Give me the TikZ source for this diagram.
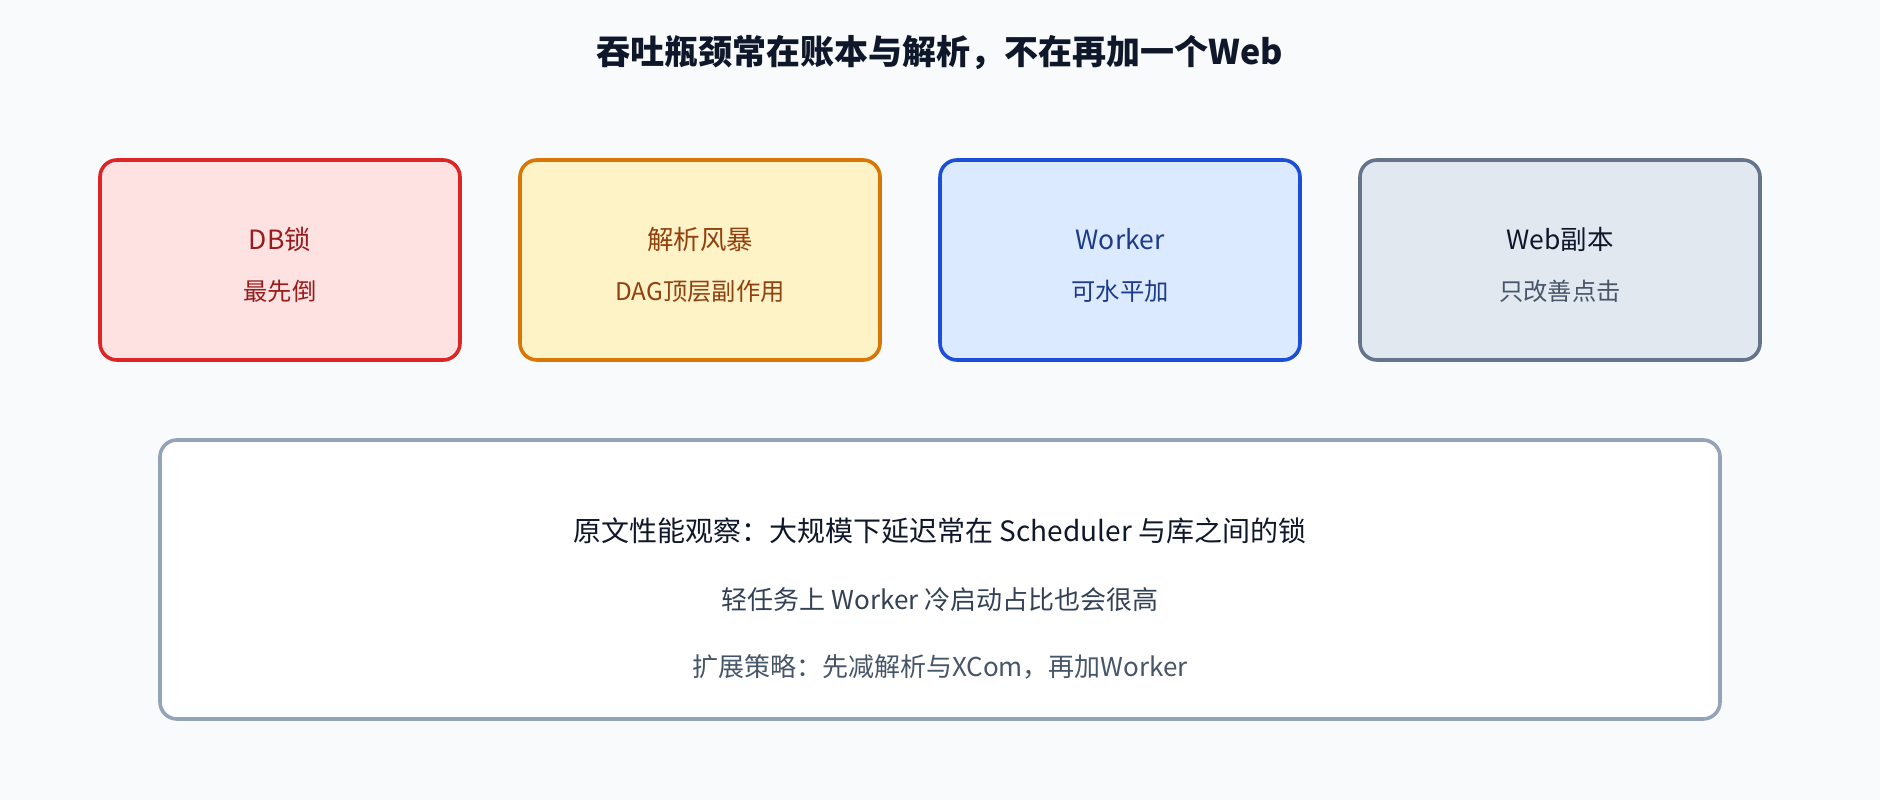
\documentclass[tikz,border=0pt]{standalone}
\usepackage{fontspec}
\setmainfont{Noto Sans CJK SC}
\usetikzlibrary{positioning}
\definecolor{bg}{HTML}{F8FAFC}
\definecolor{ink}{HTML}{0F172A}
\definecolor{Rf}{HTML}{FEE2E2}
\definecolor{Rd}{HTML}{DC2626}
\definecolor{Rt}{HTML}{991B1B}
\definecolor{Of}{HTML}{FEF3C7}
\definecolor{Od}{HTML}{D97706}
\definecolor{Ot}{HTML}{92400E}
\definecolor{Bf}{HTML}{DBEAFE}
\definecolor{Bd}{HTML}{1D4ED8}
\definecolor{Bt}{HTML}{1E3A8A}
\definecolor{Sf}{HTML}{E2E8F0}
\definecolor{Sd}{HTML}{64748B}
\definecolor{St}{HTML}{475569}
\definecolor{Nd}{HTML}{94A3B8}
\definecolor{Nt}{HTML}{334155}

\tikzset{
  card/.style={draw, line width=3.6pt, rounded corners=17pt, minimum height=200pt, inner sep=0pt},
  head/.style={font=\fontsize{26.5}{30}\selectfont},
  sub/.style={font=\fontsize{24.3}{28}\selectfont},
  line/.style={font=\fontsize{26}{30}\selectfont}
}

\begin{document}
\begin{tikzpicture}[x=1pt, y=-1pt]
   \fill[bg] (0,0) rectangle (1880,800);
   \node[font=\fontsize{34}{40}\selectfont\bfseries, text=ink] (title) at (940,53) {吞吐瓶颈常在账本与解析，不在再加一个Web};

   \node[card, draw=Rd, fill=Rf, minimum width=360pt] (db) at (280,260) {};
   \node[head, text=Rt] (dbh) at (280,239) {DB锁};
   \node[sub, text=Rt] (dbs) at (280,291) {最先倒};

   \node[card, draw=Od, fill=Of, minimum width=360pt] (parse) at (700,260) {};
   \node[head, text=Ot] (parseh) at (700,239) {解析风暴};
   \node[sub, text=Ot] (parses) at (700,291) {DAG顶层副作用};

   \node[card, draw=Bd, fill=Bf, minimum width=360pt] (worker) at (1120,260) {};
   \node[head, text=Bt] (workerh) at (1120,239) {Worker};
   \node[sub, text=Bt] (workers) at (1120,291) {可水平加};

   \node[card, draw=Sd, fill=Sf, minimum width=400pt] (web) at (1560,260) {};
   \node[head, text=ink] (webh) at (1560,239) {Web副本};
   \node[sub, text=St] (webs) at (1560,291) {只改善点击};

   \node[card, draw=Nd, fill=white, minimum width=1560pt, minimum height=279pt] (note) at (940,579.5) {};
   \node[font=\fontsize{28}{32}\selectfont, text=ink] (note1) at (940,531) {原文性能观察：大规模下延迟常在 Scheduler 与库之间的锁};
   \node[line, text=Nt] (note2) at (940,600) {轻任务上 Worker 冷启动占比也会很高};
   \node[line, text=St] (note3) at (940,667) {扩展策略：先减解析与XCom，再加Worker};
\end{tikzpicture}
\end{document}
